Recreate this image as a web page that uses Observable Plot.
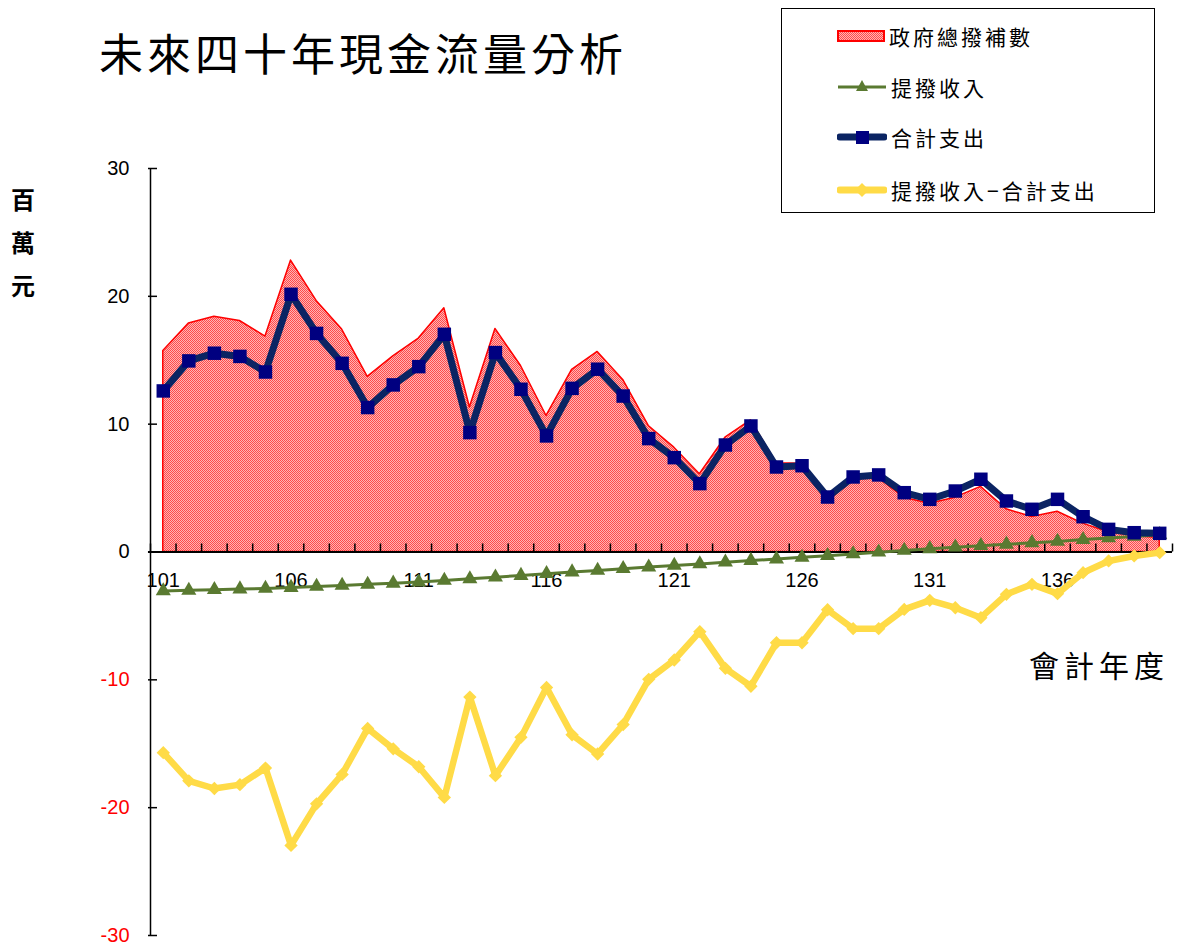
<!DOCTYPE html>
<html>
<head>
<meta charset="utf-8">
<script src="https://cdn.jsdelivr.net/npm/d3@7"></script>
<script src="https://cdn.jsdelivr.net/npm/@observablehq/plot@0.6"></script>
<style>
  body { margin: 0; background: #fff; }
  #wrap { position: relative; width: 1179px; height: 947px; overflow: hidden; background: #fff; }
  #chart { position: absolute; left: 0; top: 0; }
  .cjk { font-family: "Noto Sans CJK TC", "Noto Sans CJK SC", sans-serif; color: #000; }
  #title { position: absolute; left: 99px; top: 30px; font-size: 44px; letter-spacing: 4px; line-height: 1; white-space: nowrap; }
  #ylab { position: absolute; left: 11px; top: 177px; font-size: 24px; font-weight: bold; line-height: 43px; width: 30px; }
  #xlab { position: absolute; left: 1029px; top: 649px; font-size: 30px; letter-spacing: 5px; line-height: 1; white-space: nowrap; }
  #legend { position: absolute; left: 781px; top: 8px; width: 372px; height: 203px; border: 1.5px solid #000; background: #fff; }
  .item { position: absolute; left: 55px; height: 30px; display: flex; align-items: center; white-space: nowrap; }
  .item span { font-size: 21px; letter-spacing: 3px; margin-left: 4px; line-height: 1; }
</style>
</head>
<body>
<div id="wrap">
  <div id="chart"></div>
  <div id="title" class="cjk"></div>
  <div id="ylab" class="cjk"></div>
  <div id="xlab" class="cjk"></div>
  <div id="legend" class="cjk"></div>
</div>
<script>
// ---------- data ----------
const titleText = "未來四十年現金流量分析";
const yUnitText = ["百", "萬", "元"];
const xAxisTitle = "會計年度";
const seriesNames = ["政府總撥補數", "提撥收入", "合計支出", "提撥收入−合計支出"];

const years = [101,102,103,104,105,106,107,108,109,110,
               111,112,113,114,115,116,117,118,119,120,
               121,122,123,124,125,126,127,128,129,130,
               131,132,133,134,135,136,137,138,139,140];
const xTickLabels = [101,106,111,116,121,126,131,136];
const yTicks = [-30,-20,-10,0,10,20,30];

// 政府總撥補數
const subsidy = [15.73,17.87,18.40,18.07,16.85,22.80,19.64,17.40,13.70,15.30,
                 16.70,19.07,11.30,17.45,14.55,10.64,14.24,15.65,13.46,9.86,
                 8.16,6.08,8.94,10.30,6.95,6.90,4.38,5.69,5.77,4.25,
                 3.78,4.25,5.09,3.34,2.74,3.15,2.22,1.55,1.25,1.10];
// 提撥收入
const income = [-3.05,-3.00,-2.95,-2.90,-2.85,-2.78,-2.70,-2.62,-2.53,-2.45,
                -2.35,-2.23,-2.10,-1.97,-1.84,-1.70,-1.57,-1.44,-1.31,-1.18,
                -1.05,-0.93,-0.80,-0.67,-0.55,-0.42,-0.29,-0.15,-0.02,0.12,
                0.25,0.37,0.49,0.60,0.72,0.83,0.97,1.10,1.22,1.35];
// 合計支出
const expense = [12.60,14.95,15.55,15.30,14.08,20.16,17.10,14.76,11.30,13.07,
                 14.50,17.03,9.34,15.60,12.73,9.08,12.80,14.30,12.20,8.87,
                 7.38,5.35,8.37,9.86,6.65,6.75,4.30,5.87,6.03,4.64,
                 4.12,4.77,5.69,3.99,3.34,4.12,2.76,1.77,1.51,1.46];
// 提撥收入−合計支出
const net = [-15.70,-17.90,-18.50,-18.20,-16.90,-22.95,-19.70,-17.40,-13.80,-15.40,
             -16.80,-19.20,-11.35,-17.50,-14.50,-10.60,-14.30,-15.80,-13.50,-9.96,
             -8.45,-6.23,-9.10,-10.50,-7.10,-7.10,-4.52,-6.00,-6.00,-4.49,
             -3.78,-4.36,-5.14,-3.31,-2.53,-3.26,-1.62,-0.70,-0.31,-0.05];

// ---------- styles ----------
const RED = "#FF0000", GREEN = "#5A7A31", NAVY_LINE = "#0B2463", NAVY_MARK = "#000080", YELLOW = "#FFDB47";

const rows = years.map((yr, i) => ({year: yr, subsidy: subsidy[i], income: income[i], expense: expense[i], net: net[i]}));
const xMin = years[0] - 0.5, xMax = years[years.length - 1] + 0.5;
const boundaries = years.map(d => d - 0.5).concat([xMax]);

const chart = Plot.plot({
  width: 1179, height: 947,
  marginLeft: 150, marginRight: 7, marginTop: 168, marginBottom: 12,
  x: {domain: [xMin, xMax], axis: null},
  y: {domain: [yTicks[0], yTicks[yTicks.length - 1]], axis: null},
  style: {fontFamily: "'Liberation Sans', Arial, sans-serif", fontSize: "20px", background: "white", overflow: "visible"},
  marks: [
    Plot.areaY(rows, {x: "year", y: "subsidy", fill: "url(#redpat)", stroke: RED, strokeWidth: 1.5}),
    // axes
    Plot.ruleX([xMin], {y1: yTicks[0], y2: yTicks[yTicks.length - 1], stroke: "#000", strokeWidth: 1.5}),
    Plot.ruleY(yTicks, {y: d => d, x1: xMin, x2: xMin, insetLeft: -2, insetRight: -7, stroke: "#000", strokeWidth: 1.5}),
    Plot.ruleY([0], {x1: xMin - 0.08, x2: xMax, stroke: "#000", strokeWidth: 2.2}),
    Plot.ruleX(boundaries, {x: d => d, y1: 0, y2: 0, insetTop: -8, stroke: "#000", strokeWidth: 1.5}),
    Plot.text(yTicks.filter(d => d >= 0), {x: xMin, y: d => d, text: d => String(d), textAnchor: "end", dx: -21, fill: "#000", fontSize: 20}),
    Plot.text(yTicks.filter(d => d < 0), {x: xMin, y: d => d, text: d => String(d), textAnchor: "end", dx: -21, fill: "#FF0000", fontSize: 20}),
    Plot.text(xTickLabels, {x: d => d, y: 0, text: d => String(d), dy: 29, fill: "#000", fontSize: 20}),
    // series
    Plot.line(rows, {x: "year", y: "income", stroke: GREEN, strokeWidth: 3}),
    Plot.dot(rows, {x: "year", y: "income", symbol: "triangle", r: 5.6, fill: GREEN, stroke: "none"}),
    Plot.line(rows, {x: "year", y: "expense", stroke: NAVY_LINE, strokeWidth: 7, strokeLinejoin: "round"}),
    Plot.dot(rows, {x: "year", y: "expense", symbol: "square", r: 7.6, fill: NAVY_MARK, stroke: "none"}),
    Plot.line(rows, {x: "year", y: "net", stroke: YELLOW, strokeWidth: 6.5, strokeLinejoin: "round"}),
    Plot.dot(rows, {x: "year", y: "net", symbol: "diamond2", r: 6, fill: YELLOW, stroke: "none"})
  ]
});

const ns = "http://www.w3.org/2000/svg";
const defs = document.createElementNS(ns, "defs");
defs.innerHTML = '<pattern id="redpat" width="2" height="2" patternUnits="userSpaceOnUse">' +
  '<rect width="2" height="2" fill="#FFB4B4"/><rect width="1" height="1" fill="#FF4A4A"/>' +
  '<rect x="1" y="1" width="1" height="1" fill="#FF4A4A"/></pattern>';
chart.prepend(defs);
document.getElementById("chart").appendChild(chart);

// ---------- text ----------
document.getElementById("title").textContent = titleText;
document.getElementById("ylab").innerHTML = yUnitText.map(c => `<div>${c}</div>`).join("");
document.getElementById("xlab").textContent = xAxisTitle;

// ---------- legend ----------
const swatches = [
  `<svg width="48" height="14"><rect x="1" y="2" width="46" height="10" fill="url(#redpat)" stroke="${RED}" stroke-width="2"/></svg>`,
  `<svg width="50" height="20"><line x1="1" y1="10" x2="49" y2="10" stroke="${GREEN}" stroke-width="3"/><path d="M25,3 L31,14 L19,14 Z" fill="${GREEN}"/></svg>`,
  `<svg width="50" height="20"><line x1="3" y1="10" x2="47" y2="10" stroke="${NAVY_LINE}" stroke-width="7" stroke-linecap="round"/><rect x="19" y="4" width="13" height="13" fill="${NAVY_MARK}"/></svg>`,
  `<svg width="50" height="20"><line x1="3" y1="10" x2="47" y2="10" stroke="${YELLOW}" stroke-width="7" stroke-linecap="round"/><path d="M25,3 L32,10 L25,17 L18,10 Z" fill="${YELLOW}"/></svg>`
];
const itemTops = [12, 63, 113, 166];
const legend = document.getElementById("legend");
seriesNames.forEach((name, i) => {
  const d = document.createElement("div");
  d.className = "item";
  d.style.top = itemTops[i] + "px";
  d.innerHTML = swatches[i] + `<span>${name}</span>`;
  legend.appendChild(d);
});
</script>
</body>
</html>
